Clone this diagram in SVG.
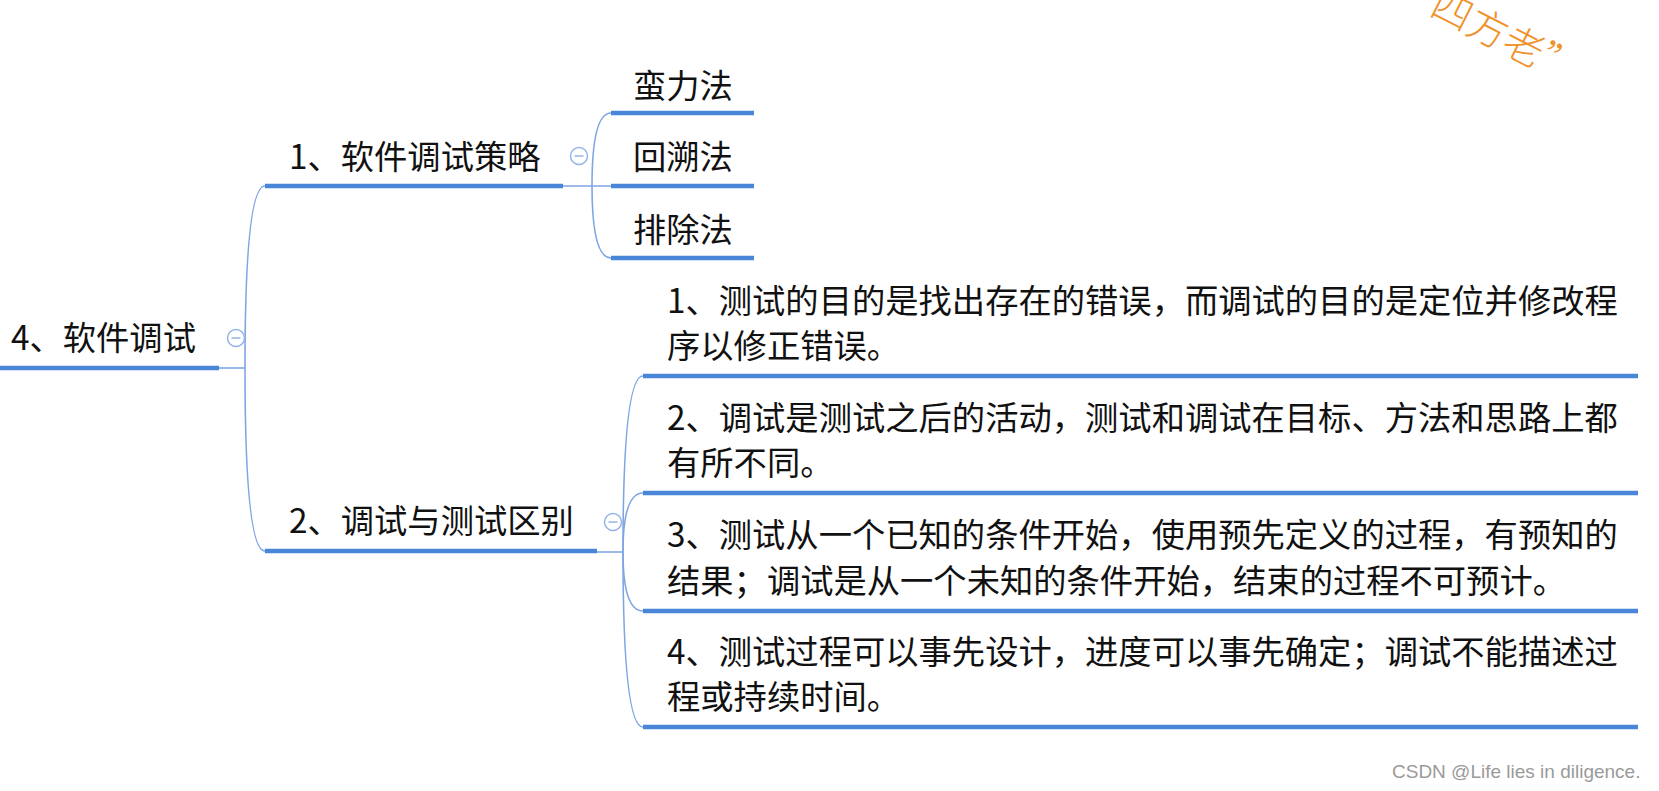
<svg xmlns="http://www.w3.org/2000/svg" width="1659" height="791" viewBox="0 0 1659 791">
<defs>
<style>
.t{font-family:"Noto Sans CJK SC","Microsoft YaHei",sans-serif;font-size:33.3px;fill:#111;}
.u{stroke:#4a86d8;stroke-width:4.5;fill:none;}
.c{stroke:#7fa6e3;stroke-width:1.6;fill:none;}
.k{fill:#fff;stroke:#94b4e8;stroke-width:1.5;}
.km{stroke:#94b4e8;stroke-width:1.5;}
.wm{font-family:"Liberation Sans",Arial,sans-serif;font-size:19px;fill:#9a9a9a;}
.or{font-family:"Noto Sans CJK SC",sans-serif;font-size:40px;font-weight:300;fill:#f0922c;}
</style>
</defs>
<rect width="1659" height="791" fill="#fff"/>
<g id="connectors">
<path class="c" d="M219 368 H245"/>
<path class="c" d="M245 368 Q245 186 265 186"/>
<path class="c" d="M245 368 Q245 551 265 551"/>
<path class="c" d="M563 186 H611"/>
<path class="c" d="M592 186 Q592 113 611 113"/>
<path class="c" d="M592 186 Q592 258 611 258"/>
<path class="c" d="M597 552 H623"/>
<path class="c" d="M623 552 Q623 376 643 376"/>
<path class="c" d="M623 552 Q623 493 643 493"/>
<path class="c" d="M623 552 Q623 611 643 611"/>
<path class="c" d="M623 552 Q623 727 643 727"/>
</g>
<g id="root">
<text class="t" x="11" y="350">4、软件调试</text>
<path class="u" d="M0 368 H219"/>
<circle class="k" cx="236" cy="338" r="8.5"/>
<path class="km" d="M231.5 338 H240.5"/>
</g>
<g id="branch1">
<text class="t" x="289" y="169">1、软件调试策略</text>
<path class="u" d="M265 186 H563"/>
<circle class="k" cx="579" cy="156" r="8.5"/>
<path class="km" d="M574.5 156 H583.5"/>
</g>
<g id="leaf-1-1">
<text class="t" x="633" y="98">蛮力法</text>
<path class="u" d="M611 113 H754"/>
</g>
<g id="leaf-1-2">
<text class="t" x="633" y="169">回溯法</text>
<path class="u" d="M611 186 H754"/>
</g>
<g id="leaf-1-3">
<text class="t" x="633" y="242">排除法</text>
<path class="u" d="M611 258 H754"/>
</g>
<g id="branch2">
<text class="t" x="289" y="533">2、调试与测试区别</text>
<path class="u" d="M265 551 H597"/>
<circle class="k" cx="613" cy="522" r="8.5"/>
<path class="km" d="M608.5 522 H617.5"/>
</g>
<g id="leaf-2-1">
<text class="t" x="667" y="313">1、测试的目的是找出存在的错误，而调试的目的是定位并修改程</text>
<text class="t" x="667" y="358">序以修正错误。</text>
<path class="u" d="M643 376 H1638"/>
</g>
<g id="leaf-2-2">
<text class="t" x="667" y="430">2、调试是测试之后的活动，测试和调试在目标、方法和思路上都</text>
<text class="t" x="667" y="475">有所不同。</text>
<path class="u" d="M643 493 H1638"/>
</g>
<g id="leaf-2-3">
<text class="t" x="667" y="547">3、测试从一个已知的条件开始，使用预先定义的过程，有预知的</text>
<text class="t" x="667" y="593">结果；调试是从一个未知的条件开始，结束的过程不可预计。</text>
<path class="u" d="M643 611 H1638"/>
</g>
<g id="leaf-2-4">
<text class="t" x="667" y="664">4、测试过程可以事先设计，进度可以事先确定；调试不能描述过</text>
<text class="t" x="667" y="709">程或持续时间。</text>
<path class="u" d="M643 727 H1638"/>
</g>
<text class="or" transform="translate(1428 14) rotate(27)">四方老”</text>
<text class="wm" x="1392" y="778">CSDN @Life lies in diligence.</text>
</svg>
